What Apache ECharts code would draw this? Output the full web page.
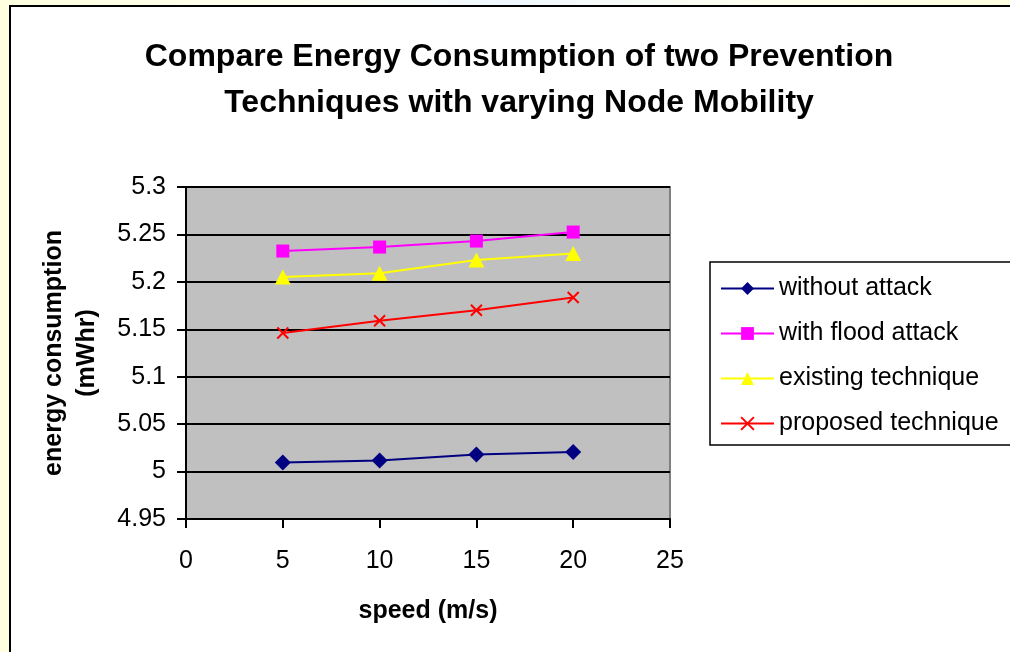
<!DOCTYPE html>
<html>
<head>
<meta charset="utf-8">
<script src="https://cdn.jsdelivr.net/npm/echarts@6/dist/echarts.min.js"></script>
<style>
html,body{margin:0;padding:0;background:#FFFFE0;}
#c{width:1010px;height:652px;}
</style>
</head>
<body>
<div id="c"></div>
<script>
const speeds = [5, 10, 15, 20];
const withoutAttack = [5.0096, 5.0117, 5.018, 5.0206];
const withFloodAttack = [5.2325, 5.2367, 5.243, 5.2525];
const existingTechnique = [5.205, 5.209, 5.223, 5.230];
const proposedTechnique = [5.146, 5.159, 5.170, 5.1835];
const seriesNames = ['without attack', 'with flood attack', 'existing technique', 'proposed technique'];
const yTicks = {min: 4.95, max: 5.3, interval: 0.05};
const xTicks = {min: 0, max: 25, interval: 5};

const FONT = '"Liberation Sans", Arial, sans-serif';
const pts = v => speeds.map((s, i) => [s, v[i]]);

const chart = echarts.init(document.getElementById('c'));
chart.setOption({
  backgroundColor: '#FFFFE0',
  animation: false,
  graphic: [
    {type: 'rect', z: -10, shape: {x: 0, y: 0, width: 1010, height: 6},
     style: {fill: new echarts.graphic.LinearGradient(0, 0, 1, 0, [
       {offset: 0, color: '#FFFFE0'}, {offset: 0.3, color: '#FFFFF0'},
       {offset: 0.5, color: '#F0F8FF'}, {offset: 0.75, color: '#FFFFF0'}, {offset: 1, color: '#FFFFE0'}])}},
    {type: 'rect', z: -10, shape: {x: 10, y: 6, width: 1100, height: 700},
     style: {fill: '#FFFFFF', stroke: '#000000', lineWidth: 2}}
  ],
  title: {
    text: 'Compare Energy Consumption of two Prevention\nTechniques with varying Node Mobility',
    left: 514, top: 29, textAlign: 'center',
    textStyle: {fontFamily: FONT, fontWeight: 'bold', fontSize: 32, lineHeight: 46, color: '#000'}
  },
  grid: {left: 186, top: 187, width: 484, height: 332, show: true,
         backgroundColor: '#C0C0C0', borderColor: '#808080', borderWidth: 2},
  xAxis: {
    type: 'value', min: xTicks.min, max: xTicks.max, interval: xTicks.interval,
    name: 'speed (m/s)', nameLocation: 'middle', nameGap: 80,
    nameTextStyle: {fontFamily: FONT, fontWeight: 'bold', fontSize: 25, color: '#000'},
    axisLine: {show: true, lineStyle: {color: '#000', width: 2}},
    axisTick: {show: true, inside: false, length: 9, lineStyle: {color: '#000', width: 2}},
    axisLabel: {fontFamily: FONT, fontSize: 25, color: '#000', margin: 30},
    splitLine: {show: false}
  },
  yAxis: {
    type: 'value', min: yTicks.min, max: yTicks.max, interval: yTicks.interval,
    name: 'energy consumption\n(mWhr)', nameLocation: 'middle', nameGap: 82, nameRotate: 90,
    nameTextStyle: {fontFamily: FONT, fontWeight: 'bold', fontSize: 25, lineHeight: 33, color: '#000'},
    axisLine: {show: true, lineStyle: {color: '#000', width: 2}},
    axisTick: {show: true, inside: false, length: 9, lineStyle: {color: '#000', width: 2}},
    axisLabel: {fontFamily: FONT, fontSize: 25, color: '#000', margin: 20,
                formatter: v => String(parseFloat(v.toFixed(2)))},
    splitLine: {show: true, lineStyle: {color: '#000', width: 2}}
  },
  legend: {
    orient: 'vertical', left: 710, top: 262,
    itemWidth: 53, itemHeight: 16, itemGap: 20,
    padding: [14, 40, 9, 10],
    borderColor: '#000', borderWidth: 1.5,
    textStyle: {fontFamily: FONT, fontSize: 25, color: '#000'},
    data: seriesNames
  },
  series: [
    {name: seriesNames[0], type: 'line', data: pts(withoutAttack),
     symbol: 'diamond', symbolSize: 16,
     lineStyle: {color: '#000080', width: 2}, itemStyle: {color: '#000080'}},
    {name: seriesNames[1], type: 'line', data: pts(withFloodAttack),
     symbol: 'rect', symbolSize: 13,
     lineStyle: {color: '#FF00FF', width: 2}, itemStyle: {color: '#FF00FF'}},
    {name: seriesNames[2], type: 'line', data: pts(existingTechnique),
     symbol: 'triangle', symbolSize: [16, 15],
     lineStyle: {color: '#FFFF00', width: 2}, itemStyle: {color: '#FFFF00'}},
    {name: seriesNames[3], type: 'line', data: pts(proposedTechnique),
     symbol: 'path://M0,0L10,10M0,10L10,0', symbolSize: 11,
     lineStyle: {color: '#FF0000', width: 2},
     itemStyle: {color: '#FF0000', borderColor: '#FF0000', borderWidth: 2}}
  ]
});
</script>
</body>
</html>
